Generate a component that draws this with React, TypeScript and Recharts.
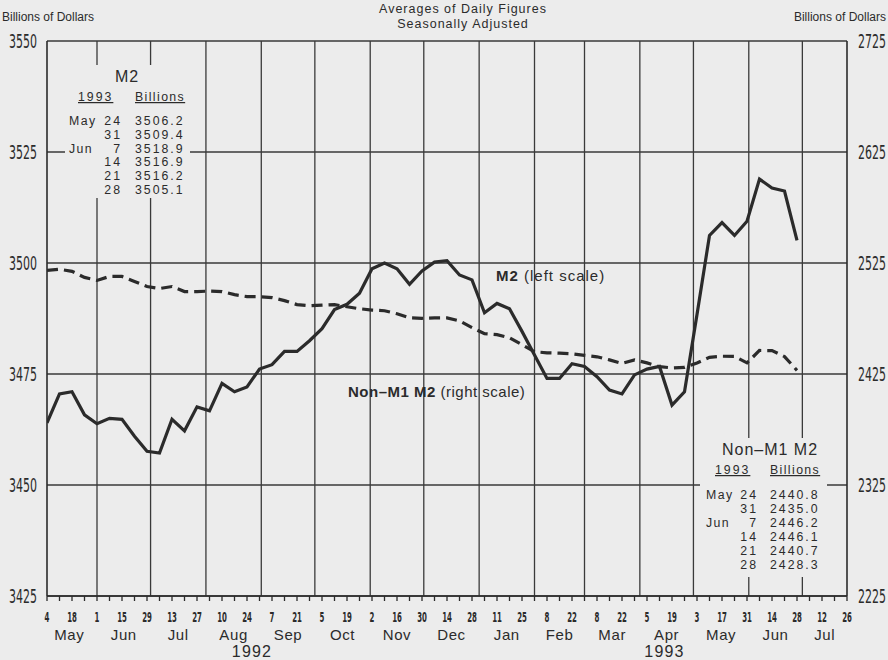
import { LineChart, Line, XAxis, YAxis, CartesianGrid } from 'recharts'

// weekly figures, week 0 = May 4, 1992 ... week 60 = Jun 28, 1993
const m2 = [
  3464.0, 3470.5, 3471.0, 3465.8, 3463.8, 3465.0, 3464.8, 3461.0, 3457.6, 3457.2,
  3464.8, 3462.2, 3467.6, 3466.7, 3472.9, 3471.0, 3472.1, 3476.1, 3477.1, 3480.1,
  3480.1, 3482.5, 3485.2, 3489.5, 3490.7, 3493.2, 3498.7, 3500.0, 3498.7, 3495.2,
  3498.2, 3500.2, 3500.5, 3497.3, 3496.2, 3488.8, 3490.9, 3489.7, 3484.6, 3479.3,
  3474.0, 3474.0, 3477.3, 3476.7, 3474.4, 3471.4, 3470.5, 3474.8, 3476.1, 3476.7,
  3468.0, 3471.0, 3488.4, 3506.2, 3509.1, 3506.2, 3509.4, 3518.9, 3516.9, 3516.2,
  3505.1,
]

const nonM1M2 = [
  2518.4, 2519.3, 2517.5, 2512.0, 2509.3, 2512.9, 2512.9, 2508.4, 2503.8, 2502.0,
  2503.8, 2499.3, 2499.3, 2499.7, 2499.3, 2496.5, 2494.7, 2494.7, 2493.8, 2491.1,
  2487.5, 2486.5, 2487.0, 2487.5, 2485.6, 2483.8, 2482.6, 2482.0, 2479.3, 2475.6,
  2475.2, 2475.6, 2475.6, 2472.9, 2466.8, 2461.4, 2460.5, 2457.7, 2451.4, 2445.0,
  2444.1, 2443.8, 2443.2, 2441.8, 2440.5, 2437.7, 2434.5, 2437.7, 2435.0, 2431.6,
  2430.5, 2431.0, 2435.0, 2440.0, 2441.0, 2440.8, 2435.0, 2446.2, 2446.1, 2440.7,
  2428.3,
]

const dayLabels = [
  '4', '18', '1', '15', '29', '13', '27', '10', '24', '7', '21', '5', '19', '2', '16', '30',
  '14', '28', '11', '25', '8', '22', '8', '22', '5', '19', '3', '17', '31', '14', '28', '12', '26',
]
const monthLabels = ['May', 'Jun', 'Jul', 'Aug', 'Sep', 'Oct', 'Nov', 'Dec', 'Jan', 'Feb', 'Mar', 'Apr', 'May', 'Jun', 'Jul']
const yearLabels = ['1992', '1993']
const yearCenters = [16.4, 49.4]
const leftTicks = [3425, 3450, 3475, 3500, 3525, 3550]
const rightTicks = [2225, 2325, 2425, 2525, 2625, 2725]

const m2Table = [
  ['May', '24', '3506.2'],
  ['', '31', '3509.4'],
  ['Jun', '7', '3518.9'],
  ['', '14', '3516.9'],
  ['', '21', '3516.2'],
  ['', '28', '3505.1'],
]
const nonM1Table = [
  ['May', '24', '2440.8'],
  ['', '31', '2435.0'],
  ['Jun', '7', '2446.2'],
  ['', '14', '2446.1'],
  ['', '21', '2440.7'],
  ['', '28', '2428.3'],
]

const LAST_WEEK = 64
const DAY = 86400000
const toWeek = (y: number, m: number, d: number) => (Date.UTC(y, m, d) - Date.UTC(1992, 4, 4)) / (7 * DAY)

const weekTicks = Array.from({ length: LAST_WEEK + 1 }, (_, i) => i)
const monthStarts = monthLabels.map((_, i) => toWeek(1992, 4 + i, 1))
const monthCenters = monthLabels.map((_, i) => {
  const end = Math.min(toWeek(1992, 5 + i, 1), LAST_WEEK)
  return (monthStarts[i] + end) / 2
})
const gridWeeks = monthStarts.filter((w) => w > 0 && w < LAST_WEEK)

const data = m2.map((v, i) => ({ week: i, m2: v, nonM1: nonM1M2[i] }))

const BG = '#ececec'
const INK = '#2b2b2b'
const SANS = '"Liberation Sans", Arial, sans-serif'
const NUMS = '"DejaVu Sans", sans-serif'

// tall, squeezed numerals like the typeset axis figures
function narrowText(x: number, y: number, s: string, anchor: string, size: number, sx: number, weight = 'normal') {
  return (
    <text
      transform={`translate(${x},${y}) scale(${sx},1)`}
      textAnchor={anchor}
      fontFamily={NUMS}
      fontSize={size}
      fontWeight={weight}
      fill={INK}
    >
      {s}
    </text>
  )
}

// eslint-disable-next-line @typescript-eslint/no-explicit-any
function DayTick({ x, y, payload }: any) {
  const v = payload.value
  if (v % 2 !== 0) return <g />
  return narrowText(x, y + 20.5, dayLabels[v / 2], 'middle', 14, 0.5, 'bold')
}

// eslint-disable-next-line @typescript-eslint/no-explicit-any
function MonthTick({ x, y, index }: any) {
  return (
    <text x={x} y={y + 16} textAnchor="middle" fontFamily={SANS} fontSize={15} fill={INK} letterSpacing={0.6}>
      {monthLabels[index]}
    </text>
  )
}

// eslint-disable-next-line @typescript-eslint/no-explicit-any
function YearTick({ x, y, index }: any) {
  return (
    <text x={x} y={y + 14.5} textAnchor="middle" fontFamily={SANS} fontSize={16} fill={INK} letterSpacing={1.2}>
      {yearLabels[index]}
    </text>
  )
}

// eslint-disable-next-line @typescript-eslint/no-explicit-any
function LeftTick({ x, y, payload }: any) {
  return narrowText(x, y + 6.5, String(payload.value), 'end', 19, 0.58)
}

// eslint-disable-next-line @typescript-eslint/no-explicit-any
function RightTick({ x, y, payload }: any) {
  return narrowText(x, y + 6.5, String(payload.value), 'start', 19, 0.58)
}

function TableBox({ x, y, w, h, title, titleX, rows, colMonth, colDay, colVal, yearX, rowTop, step }: {
  x: number; y: number; w: number; h: number; title: string; titleX: number; rows: string[][]
  colMonth: number; colDay: number; colVal: number; yearX: number; rowTop: number; step: number
}) {
  const txt = { fontFamily: SANS, fontSize: 12.3, fill: INK, letterSpacing: 2 }
  return (
    <g>
      <rect x={x} y={y} width={w} height={h} fill={BG} />
      <text x={titleX} y={y + 17} textAnchor="middle" {...txt} fontSize={16} letterSpacing={1}>{title}</text>
      <text x={yearX} y={y + 36} {...txt} textDecoration="underline">1993</text>
      <text x={colVal} y={y + 36} {...txt} letterSpacing={1.4} textDecoration="underline">Billions</text>
      {rows.map((r, i) => (
        <g key={i}>
          <text x={colMonth} y={rowTop + i * step} {...txt} letterSpacing={1.4}>{r[0]}</text>
          <text x={colDay} y={rowTop + i * step} textAnchor="end" {...txt}>{r[1]}</text>
          <text x={colVal} y={rowTop + i * step} {...txt}>{r[2]}</text>
        </g>
      ))}
    </g>
  )
}

export default function App() {
  return (
    <div style={{ position: 'absolute', left: 0, top: 0, width: 888, height: 660, background: BG, fontFamily: SANS }}>
      <LineChart width={888} height={660} data={data} margin={{ top: 41, right: 0, bottom: 0, left: 0 }}>
        <CartesianGrid
          xAxisId="day"
          yAxisId="left"
          stroke="#3a3a3a"
          strokeWidth={1.3}
          verticalValues={gridWeeks}
          horizontalValues={leftTicks}
        />
        <XAxis
          xAxisId="day"
          dataKey="week"
          type="number"
          domain={[0, LAST_WEEK]}
          ticks={weekTicks}
          interval={0}
          allowDataOverflow
          height={28}
          tickSize={5}
          tickMargin={0}
          axisLine={{ stroke: INK, strokeWidth: 1.6 }}
          tickLine={{ stroke: INK, strokeWidth: 1.3 }}
          tick={DayTick}
        />
        <XAxis
          xAxisId="month"
          dataKey="week"
          type="number"
          domain={[0, LAST_WEEK]}
          ticks={monthCenters}
          interval={0}
          allowDataOverflow
          height={18}
          tickSize={0}
          tickMargin={0}
          axisLine={false}
          tickLine={false}
          tick={MonthTick}
        />
        <XAxis
          xAxisId="year"
          dataKey="week"
          type="number"
          domain={[0, LAST_WEEK]}
          ticks={yearCenters}
          interval={0}
          allowDataOverflow
          height={18}
          tickSize={0}
          tickMargin={0}
          axisLine={false}
          tickLine={false}
          tick={YearTick}
        />
        <YAxis
          yAxisId="left"
          domain={[3425, 3550]}
          ticks={leftTicks}
          interval={0}
          allowDataOverflow
          width={47}
          tickSize={0}
          tickMargin={10}
          axisLine={{ stroke: INK, strokeWidth: 1.6 }}
          tickLine={false}
          tick={LeftTick}
        />
        <YAxis
          yAxisId="right"
          orientation="right"
          domain={[2225, 2725]}
          ticks={rightTicks}
          interval={0}
          allowDataOverflow
          width={41}
          tickSize={0}
          tickMargin={11}
          axisLine={{ stroke: INK, strokeWidth: 1.6 }}
          tickLine={false}
          tick={RightTick}
        />
        <Line
          xAxisId="day"
          yAxisId="right"
          dataKey="nonM1"
          type="linear"
          stroke={INK}
          strokeWidth={3.2}
          strokeDasharray="11 6"
          dot={false}
          isAnimationActive={false}
        />
        <Line
          xAxisId="day"
          yAxisId="left"
          dataKey="m2"
          type="linear"
          stroke={INK}
          strokeWidth={3.2}
          dot={false}
          isAnimationActive={false}
        />
      </LineChart>

      <svg width={888} height={660} style={{ position: 'absolute', left: 0, top: 0, pointerEvents: 'none' }}>
        <text x={2} y={21} fontFamily={SANS} fontSize={12} fill={INK}>Billions of Dollars</text>
        <text x={886} y={21} textAnchor="end" fontFamily={SANS} fontSize={12} fill={INK}>Billions of Dollars</text>
        <text x={463} y={13} textAnchor="middle" fontFamily={SANS} fontSize={12.5} fill={INK} letterSpacing={1}>
          Averages of Daily Figures
        </text>
        <text x={463} y={28} textAnchor="middle" fontFamily={SANS} fontSize={12.5} fill={INK} letterSpacing={1}>
          Seasonally Adjusted
        </text>

        <TableBox
          x={65} y={65} w={125} h={133}
          title="M2" titleX={127}
          rows={m2Table}
          colMonth={69} colDay={122} colVal={135} yearX={78}
          rowTop={125} step={13.8}
        />
        <TableBox
          x={700} y={438} w={127} h={139}
          title="Non–M1 M2" titleX={770}
          rows={nonM1Table}
          colMonth={706} colDay={758} colVal={770} yearX={715}
          rowTop={498.5} step={14}
        />

        <text x={496} y={281} fontFamily={SANS} fontSize={15} fill={INK} letterSpacing={1}>
          <tspan fontWeight="bold">M2</tspan> (left scale)
        </text>
        <text x={348} y={397} fontFamily={SANS} fontSize={15} fill={INK} letterSpacing={0.5}>
          <tspan fontWeight="bold">Non–M1 M2</tspan> (right scale)
        </text>
      </svg>
    </div>
  )
}
